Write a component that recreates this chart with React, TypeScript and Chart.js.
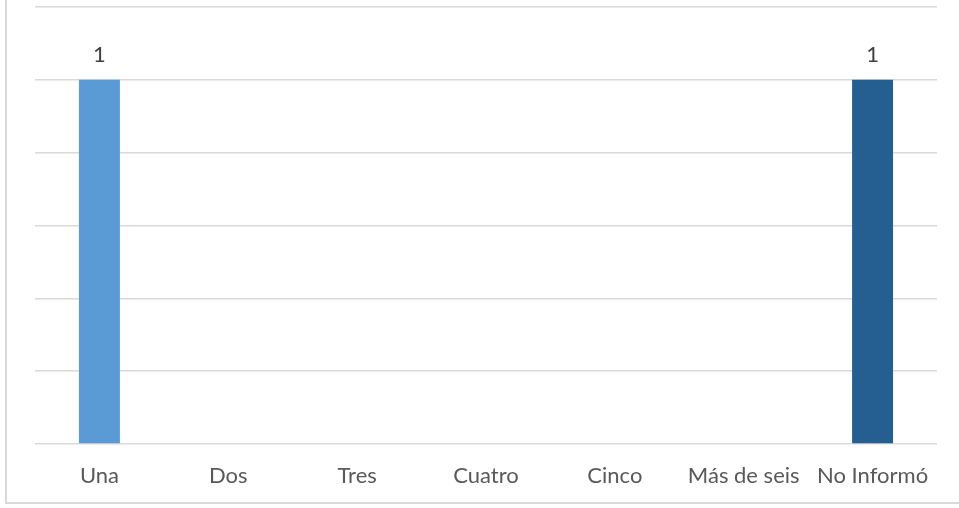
import React, { useEffect, useRef } from "react";
import { Chart, registerables } from "chart.js";

Chart.register(...registerables);

const categories = ["Una", "Dos", "Tres", "Cuatro", "Cinco", "Más de seis", "No Informó"];
const values = [1, 0, 0, 0, 0, 0, 1];
const barColors = ["#5b9bd5", "#5b9bd5", "#5b9bd5", "#5b9bd5", "#5b9bd5", "#5b9bd5", "#255e91"];
const yTicks = [0, 0.2, 0.4, 0.6, 0.8, 1, 1.2];

const FONT = "Lato, 'Open Sans', sans-serif";

const labelPlugin = {
  id: "valueLabels",
  afterDatasetsDraw(chart: any) {
    const ctx = chart.ctx;
    const meta = chart.getDatasetMeta(0);
    ctx.save();
    ctx.font = `22px ${FONT}`;
    ctx.fillStyle = "#404040";
    ctx.textAlign = "center";
    ctx.textBaseline = "middle";
    meta.data.forEach((bar: any, i: number) => {
      const v = values[i];
      if (v > 0) {
        ctx.fillText(String(v), bar.x, bar.y - 25);
      }
    });
    ctx.restore();
  },
};

export default function App() {
  const ref = useRef<HTMLCanvasElement | null>(null);
  useEffect(() => {
    document.body.style.margin = "0";
    const canvas = ref.current!;
    const chart = new Chart(canvas, {
      type: "bar",
      data: {
        labels: categories,
        datasets: [
          {
            data: values,
            backgroundColor: barColors,
            borderWidth: 0,
            barPercentage: 0.318,
            categoryPercentage: 1,
          },
        ],
      },
      options: {
        animation: false,
        responsive: false,
        maintainAspectRatio: false,
        layout: { padding: { left: 35, right: 22, top: 7, bottom: 0 } },
        plugins: { legend: { display: false }, tooltip: { enabled: false } },
        scales: {
          x: {
            grid: { display: false, drawTicks: false },
            border: { display: false },
            ticks: {
              color: "#595959",
              font: { family: FONT, size: 22 },
              padding: 19,
              maxRotation: 0,
              autoSkip: false,
            },
            afterFit: (s: any) => {
              s.height = 64;
            },
          },
          y: {
            min: 0,
            max: 1.2,
            afterBuildTicks: (s: any) => {
              s.ticks = yTicks.map((v) => ({ value: v }));
            },
            grid: { color: "#d9d9d9", lineWidth: 1.5, drawTicks: false },
            border: { display: false },
            ticks: { display: false },
            afterFit: (s: any) => {
              s.width = 0;
            },
          },
        },
      },
      plugins: [labelPlugin],
    });
    return () => chart.destroy();
  }, []);
  return (
    <div style={{ position: "relative", width: 959, height: 508, background: "#fff", overflow: "hidden" }}>
      <div
        style={{
          position: "absolute",
          left: 5,
          top: -4,
          width: 970,
          height: 508,
          border: "2px solid #d9d9d9",
          boxSizing: "border-box",
        }}
      />
      <canvas ref={ref} width={959} height={508} style={{ position: "absolute", left: 0, top: 0, display: "block" }} />
    </div>
  );
}
